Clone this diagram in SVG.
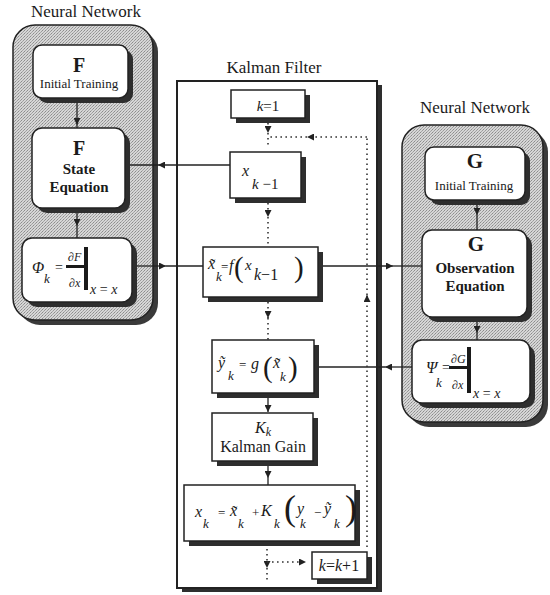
<svg xmlns="http://www.w3.org/2000/svg" width="550" height="595" viewBox="0 0 550 595" font-family="'Liberation Serif', 'Times New Roman', serif">
<defs>
<pattern id="stip" width="3" height="3" patternUnits="userSpaceOnUse">
<rect width="3" height="3" fill="#d6d6d6"/>
<rect x="0" y="0" width="1" height="1" fill="#8c8c8c"/>
<rect x="2" y="1" width="1" height="1" fill="#9c9c9c"/>
<rect x="1" y="2" width="1" height="1" fill="#a8a8a8"/>
</pattern>
<marker id="ah" viewBox="0 0 10 10" refX="10" refY="5" markerWidth="10" markerHeight="7" markerUnits="userSpaceOnUse" orient="auto">
<path d="M0,0 L10,5 L0,10 z" fill="#222"/>
</marker>
<marker id="ahs" viewBox="0 0 10 10" refX="10" refY="5" markerWidth="8" markerHeight="7" markerUnits="userSpaceOnUse" orient="auto">
<path d="M0,0 L10,5 L0,10 z" fill="#222"/>
</marker>
</defs>
<style>
text{font-family:"Liberation Serif","Times New Roman",serif;fill:#1a1a1a}
.it{font-style:italic}
.b{font-weight:bold}
.title{font-size:17px}
.panel{fill:url(#stip);stroke:#222;stroke-width:1.5}
.pshadow{fill:#3a3a3a}
.box{fill:#fff;stroke:#222;stroke-width:1.5}
.shadow{fill:#2e2e2e}
.line{fill:none;stroke:#222;stroke-width:1.3}
.dot{fill:none;stroke:#333;stroke-width:1.6;stroke-dasharray:1.6 3.4}
.ink{fill:#1a1a1a}
</style>
<rect width="550" height="595" fill="#fff"/>

<!-- Panels -->
<g id="nn-left">
<text class="title" x="86" y="17" text-anchor="middle">Neural Network</text>
<rect class="pshadow" x="18" y="30" width="140" height="295" rx="22"/>
<rect class="panel" x="13" y="25" width="140" height="295" rx="22"/>
</g>
<g id="kalman">
<text class="title" x="274" y="73" text-anchor="middle" font-size="16">Kalman Filter</text>
<rect class="shadow" x="182" y="85" width="200" height="507"/>
<rect x="177" y="81" width="200" height="507" fill="#fff" stroke="#222" stroke-width="2"/>
</g>
<g id="nn-right">
<text class="title" x="475" y="113" text-anchor="middle">Neural Network</text>
<rect class="pshadow" x="407" y="130" width="141" height="297" rx="22"/>
<rect class="panel" x="402" y="125" width="141" height="297" rx="22"/>
</g>

<!-- Connectors -->
<g id="connectors">
<path class="line" d="M230,165 L158,165" marker-end="url(#ah)"/>
<path class="line" d="M158,165 L125,165"/>
<path class="line" d="M134,266 L166,266" marker-end="url(#ah)"/>
<path class="line" d="M166,266 L203,266"/>
<path class="line" d="M318,266 L393,266" marker-end="url(#ah)"/>
<path class="line" d="M393,266 L422,266"/>
<path class="line" d="M412,367 L385,367" marker-end="url(#ah)"/>
<path class="line" d="M385,367 L314,367"/>
<path class="line" d="M77,98 L77,125" marker-end="url(#ahs)"/>
<path class="line" d="M77,125 L77,128"/>
<path class="line" d="M77,208 L77,226" marker-end="url(#ahs)"/>
<path class="line" d="M77,226 L77,238"/>
<path class="line" d="M477,200 L477,215" marker-end="url(#ahs)"/>
<path class="line" d="M477,215 L477,230"/>
<path class="line" d="M477,317 L477,333" marker-end="url(#ahs)"/>
<path class="line" d="M477,333 L477,340"/>
<path class="dot" d="M268,123 L268,133" marker-end="url(#ahs)"/>
<path class="dot" d="M268,133 L268,148"/>
<path class="dot" d="M367,547 L367,295" marker-end="url(#ahs)"/>
<path class="dot" d="M367,295 L367,137"/>
<path class="dot" d="M367,137 L307,137" marker-end="url(#ahs)"/>
<path class="dot" d="M307,137 L268,137"/>
<path class="dot" d="M268,203 L268,217" marker-end="url(#ahs)"/>
<path class="dot" d="M268,217 L268,247"/>
<path class="dot" d="M268,302 L268,318" marker-end="url(#ahs)"/>
<path class="dot" d="M268,318 L268,340"/>
<path class="line" d="M268,398 L268,412" marker-end="url(#ahs)"/>
<path class="line" d="M268,466 L268,478" marker-end="url(#ahs)"/>
<path class="line" d="M268,478 L268,485"/>
<path class="dot" d="M267,549 L267,568" marker-end="url(#ahs)"/>
<path class="dot" d="M267,568 L267,580"/>
<path class="dot" d="M267,562 L306,562" marker-end="url(#ahs)"/>
</g>

<!-- Left NN nodes -->
<g id="f-init">
<rect class="shadow" x="38" y="50" width="95" height="53" rx="9"/>
<rect class="box" x="33" y="45" width="95" height="53" rx="9"/>
<text class="b" x="79" y="72" text-anchor="middle" font-size="20">F</text>
<text x="79" y="88" text-anchor="middle" font-size="13">Initial Training</text>
</g>
<g id="f-state">
<rect class="shadow" x="37" y="133" width="93" height="80" rx="10"/>
<rect class="box" x="32" y="128" width="93" height="80" rx="10"/>
<text class="b" x="79" y="155" text-anchor="middle" font-size="20">F</text>
<text class="b" x="79" y="174" text-anchor="middle" font-size="15">State</text>
<text class="b" x="79" y="192" text-anchor="middle" font-size="15">Equation</text>
</g>
<g id="phi">
<rect class="shadow" x="27" y="243" width="110" height="64" rx="10"/>
<rect class="box" x="22" y="238" width="110" height="64" rx="10"/>
<text class="it" x="32" y="273" font-size="16">Φ</text>
<text class="it" x="44" y="283" font-size="13">k</text>
<text x="55" y="272" font-size="14">=</text>
<text class="it" x="68" y="261" font-size="12">∂F</text>
<rect class="ink" x="66" y="265" width="19" height="3"/>
<text class="it" x="69" y="287" font-size="12">∂x</text>
<rect class="ink" x="84" y="247" width="4" height="43"/>
<text x="90" y="294" font-size="14"><tspan class="it">x</tspan> = <tspan class="it">x</tspan></text>
</g>

<!-- Kalman nodes -->
<g id="k-init">
<rect class="shadow" x="236" y="95" width="74" height="28"/>
<rect class="box" x="231" y="90" width="74" height="28"/>
<text x="268" y="111" text-anchor="middle" font-size="15"><tspan class="it">k</tspan>=1</text>
</g>
<g id="x-prev">
<rect class="shadow" x="235" y="157" width="71" height="46"/>
<rect class="box" x="230" y="152" width="71" height="46"/>
<text class="it" x="242" y="176" font-size="16">x</text>
<text x="252" y="189" font-size="15"><tspan class="it">k</tspan> −1</text>
</g>
<g id="x-pred">
<rect class="shadow" x="208" y="252" width="115" height="50"/>
<rect class="box" x="203" y="247" width="115" height="50"/>
<text class="it" x="208" y="269" font-size="16">x̃</text>
<text class="it" x="216" y="281" font-size="13">k</text>
<text x="221" y="271" font-size="13">=</text>
<text class="it" x="229" y="271" font-size="16">f</text>
<text x="234" y="277" font-size="29">(</text>
<text class="it" x="245" y="270" font-size="15">x</text>
<text x="254" y="280" font-size="16"><tspan class="it">k</tspan>−1</text>
<text x="294" y="277" font-size="29">)</text>
</g>
<g id="y-pred">
<rect class="shadow" x="217" y="345" width="102" height="53"/>
<rect class="box" x="212" y="340" width="102" height="53"/>
<text class="it" x="218" y="368" font-size="16">ỹ</text>
<text class="it" x="228" y="380" font-size="13">k</text>
<text x="239" y="369" font-size="13">=</text>
<text class="it" x="251" y="369" font-size="16">g</text>
<text x="263" y="377" font-size="29">(</text>
<text class="it" x="273" y="368" font-size="16">x̃</text>
<text class="it" x="280" y="381" font-size="13">k</text>
<text x="288" y="377" font-size="29">)</text>
</g>
<g id="gain">
<rect class="shadow" x="217" y="418" width="101" height="48"/>
<rect class="box" x="212" y="413" width="101" height="48"/>
<text x="263" y="433" text-anchor="middle" font-size="16"><tspan class="it">K</tspan><tspan class="it" font-size="12" dy="3">k</tspan></text>
<text x="263" y="452" text-anchor="middle" font-size="16">Kalman Gain</text>
</g>
<g id="x-update">
<rect class="shadow" x="189" y="490" width="171" height="56"/>
<rect class="box" x="184" y="485" width="171" height="56"/>
<text class="it" x="195" y="517" font-size="16">x</text>
<text class="it" x="203" y="528" font-size="13">k</text>
<text x="218" y="517" font-size="13">=</text>
<text class="it" x="230" y="516" font-size="16">x̃</text>
<text class="it" x="238" y="528" font-size="13">k</text>
<text x="252" y="517" font-size="13">+</text>
<text class="it" x="261" y="516" font-size="16">K</text>
<text class="it" x="274" y="528" font-size="13">k</text>
<text x="284" y="520" font-size="36">(</text>
<text class="it" x="297" y="514" font-size="16">y</text>
<text class="it" x="300" y="528" font-size="13">k</text>
<text x="314" y="517" font-size="13">−</text>
<text class="it" x="324" y="514" font-size="16">ỹ</text>
<text class="it" x="334" y="528" font-size="13">k</text>
<text x="345" y="520" font-size="36">)</text>
</g>
<g id="k-inc">
<rect class="shadow" x="317" y="557" width="55" height="27"/>
<rect class="box" x="312" y="552" width="55" height="27"/>
<text x="339" y="571" text-anchor="middle" font-size="16"><tspan class="it">k</tspan>=<tspan class="it">k</tspan>+1</text>
</g>

<!-- Right NN nodes -->
<g id="g-init">
<rect class="shadow" x="430" y="152" width="100" height="53" rx="9"/>
<rect class="box" x="425" y="147" width="100" height="53" rx="9"/>
<text class="b" x="475" y="168" text-anchor="middle" font-size="21">G</text>
<text x="474" y="190" text-anchor="middle" font-size="13">Initial Training</text>
</g>
<g id="g-obs">
<rect class="shadow" x="427" y="235" width="105" height="87" rx="10"/>
<rect class="box" x="422" y="230" width="105" height="87" rx="10"/>
<text class="b" x="476" y="251" text-anchor="middle" font-size="21">G</text>
<text class="b" x="475" y="273" text-anchor="middle" font-size="15">Observation</text>
<text class="b" x="475" y="291" text-anchor="middle" font-size="15">Equation</text>
</g>
<g id="psi">
<rect class="shadow" x="417" y="345" width="118" height="63" rx="10"/>
<rect class="box" x="412" y="340" width="118" height="63" rx="10"/>
<text class="it" x="426" y="373" font-size="16">Ψ</text>
<text class="it" x="436" y="387" font-size="13">k</text>
<text x="442" y="372" font-size="14">=</text>
<text class="it" x="451" y="363" font-size="12">∂G</text>
<rect class="ink" x="449" y="366" width="19" height="3"/>
<text class="it" x="452" y="389" font-size="12">∂x</text>
<rect class="ink" x="467" y="347" width="4" height="46"/>
<text x="473" y="398" font-size="14"><tspan class="it">x</tspan> = <tspan class="it">x</tspan></text>
</g>
</svg>
